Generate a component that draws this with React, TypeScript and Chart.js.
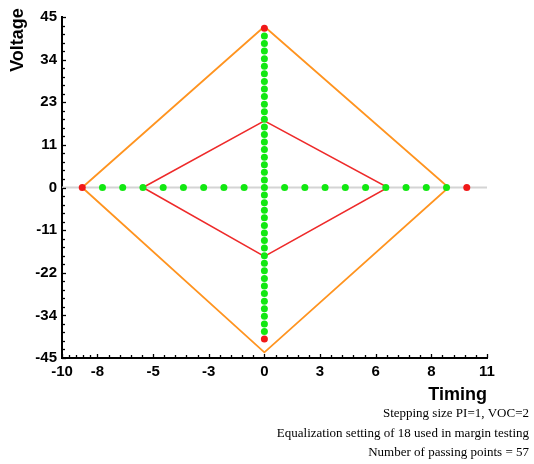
import React, { useEffect, useRef } from 'react';
import { Chart, registerables } from 'chart.js';

Chart.register(...registerables);

// Axis ranges and tick values
const X_MIN = -10;
const X_MAX = 11;
const Y_MIN = -45;
const Y_MAX = 45;
const xTickValues = [-10, -8.25, -5.5, -2.75, 0, 2.75, 5.5, 8.25, 11];
const yTickValues = [-45, -33.75, -22.5, -11.25, 0, 11.25, 22.5, 33.75, 45];

// Passing points along the timing axis (voltage = 0)
const timingPassX = [-8, -7, -6, -5, -4, -3, -2, -1, 1, 2, 3, 4, 5, 6, 7, 8, 9];
// Passing points along the voltage axis (timing = 0)
const voltagePassY = [
  -38, -36, -34, -32, -30, -28, -26, -24, -22, -20, -18, -16, -14, -12, -10, -8, -6, -4, -2,
  0, 2, 4, 6, 8, 10, 12, 14, 16, 18, 20, 22, 24, 26, 28, 30, 32, 34, 36, 38, 40,
];
// Failing points
const failX = [-9, 10, 0, 0];
const failY = [0, 0, 42, -40];
// Outer (orange) eye mask
const outerEyeX = [-9, 0, 9.1, 0, -9];
const outerEyeY = [0, 42.5, 0, -43.5, 0];
// Inner (red) eye mask
const innerEyeX = [-6, 0, 6.1, 0, -6];
const innerEyeY = [0, 17.6, 0, -18.2, 0];

const xTitle = 'Timing';
const yTitle = 'Voltage';
const notes = [
  'Stepping size PI=1, VOC=2',
  'Equalization setting of 18 used in margin testing',
  'Number of passing points = 57',
];

const SANS = '"Liberation Sans", Arial, sans-serif';
const SERIF = '"Liberation Serif", "Times New Roman", serif';

const decorPlugin = {
  id: 'decor',
  afterDraw(chart: any) {
    const { ctx, chartArea } = chart;
    const xs = chart.scales.x;
    const ys = chart.scales.y;
    ctx.save();
    ctx.strokeStyle = '#000';
    ctx.lineWidth = 1.3;
    const bottom = chartArea.bottom;
    const left = chartArea.left;
    const major = 4;
    const minor = 3;
    const seg = (x1: number, y1: number, x2: number, y2: number) => {
      ctx.beginPath();
      ctx.moveTo(x1, y1);
      ctx.lineTo(x2, y2);
      ctx.stroke();
    };
    for (let i = 0; i < xTickValues.length; i++) {
      const v = xTickValues[i];
      const px = Math.round(xs.getPixelForValue(v)) + 0.5;
      seg(px, bottom, px, bottom - major);
      if (i < xTickValues.length - 1) {
        const n = xTickValues[i + 1];
        for (let k = 1; k < 5; k++) {
          const mp = Math.round(xs.getPixelForValue(v + ((n - v) * k) / 5)) + 0.5;
          seg(mp, bottom, mp, bottom - minor);
        }
      }
    }
    for (let i = 0; i < yTickValues.length; i++) {
      const v = yTickValues[i];
      const py = Math.round(ys.getPixelForValue(v)) + 0.5;
      seg(left, py, left + major, py);
      if (i < yTickValues.length - 1) {
        const n = yTickValues[i + 1];
        for (let k = 1; k < 5; k++) {
          const mp = Math.round(ys.getPixelForValue(v + ((n - v) * k) / 5)) + 0.5;
          seg(left, mp, left + minor, mp);
        }
      }
    }

    ctx.fillStyle = '#000';
    // Y title
    ctx.save();
    ctx.translate(18, 40);
    ctx.rotate(-Math.PI / 2);
    ctx.font = `bold 18px ${SANS}`;
    ctx.textAlign = 'center';
    ctx.textBaseline = 'middle';
    ctx.fillText(yTitle, 0, 0);
    ctx.restore();
    // X title
    ctx.font = `bold 18px ${SANS}`;
    ctx.textAlign = 'right';
    ctx.textBaseline = 'middle';
    ctx.fillText(xTitle, chartArea.right, 395);
    // Notes
    ctx.font = `13px ${SERIF}`;
    notes.forEach((t, i) => ctx.fillText(t, 529, 414 + i * 19.5));
    ctx.restore();
  },
};

export default function App() {
  const ref = useRef<HTMLCanvasElement | null>(null);

  useEffect(() => {
    document.body.style.margin = '0';
    const canvas = ref.current;
    if (!canvas) return;

    const pts = (xs: number[], ys: number[]) => xs.map((x, i) => ({ x, y: ys[i] }));

    const chart = new Chart(canvas, {
      type: 'scatter',
      data: {
        datasets: [
          {
            label: 'fail',
            data: pts(failX, failY),
            pointRadius: 3.5,
            pointBackgroundColor: '#f01818',
            pointBorderWidth: 0,
            showLine: false,
          },
          {
            label: 'pass timing',
            data: timingPassX.map((x) => ({ x, y: 0 })),
            pointRadius: 3.5,
            pointBackgroundColor: '#12e812',
            pointBorderWidth: 0,
            showLine: false,
          },
          {
            label: 'pass voltage',
            data: voltagePassY.map((y) => ({ x: 0, y })),
            pointRadius: 3.5,
            pointBackgroundColor: '#12e812',
            pointBorderWidth: 0,
            showLine: false,
          },
          {
            label: 'inner',
            data: pts(innerEyeX, innerEyeY),
            showLine: true,
            borderColor: '#ee2a2a',
            borderWidth: 1.5,
            pointRadius: 0,
            tension: 0,
          },
          {
            label: 'outer',
            data: pts(outerEyeX, outerEyeY),
            showLine: true,
            borderColor: '#ff9420',
            borderWidth: 1.8,
            pointRadius: 0,
            tension: 0,
          },
          {
            label: 'zero',
            data: [
              { x: X_MIN, y: 0 },
              { x: X_MAX, y: 0 },
            ],
            showLine: true,
            borderColor: '#d4d4d4',
            borderWidth: 2,
            pointRadius: 0,
          },
        ],
      },
      options: {
        responsive: false,
        animation: false,
        layout: { padding: { left: 0, top: 17, right: 47, bottom: 88 } },
        plugins: {
          legend: { display: false },
          tooltip: { enabled: false },
        },
        scales: {
          x: {
            type: 'linear',
            min: X_MIN,
            max: X_MAX,
            afterBuildTicks: (s: any) => {
              s.ticks = xTickValues.map((value) => ({ value }));
            },
            afterFit: (s: any) => {
              s.height = 18;
            },
            grid: { display: false, drawTicks: false },
            border: { display: true, color: '#000', width: 2 },
            ticks: {
              autoSkip: false,
              maxRotation: 0,
              padding: 5,
              color: '#000',
              font: { family: SANS, size: 15, weight: 'bold' },
              callback: (v: any) => String(Math.round(Number(v))),
            },
          },
          y: {
            type: 'linear',
            min: Y_MIN,
            max: Y_MAX,
            afterBuildTicks: (s: any) => {
              s.ticks = yTickValues.map((value) => ({ value }));
            },
            afterFit: (s: any) => {
              s.width = 62;
            },
            grid: { display: false, drawTicks: false },
            border: { display: true, color: '#000', width: 2 },
            ticks: {
              autoSkip: false,
              padding: 5,
              color: '#000',
              font: { family: SANS, size: 15, weight: 'bold' },
              callback: (v: any) => String(Math.round(Number(v))),
            },
          },
        },
      },
      plugins: [decorPlugin],
    } as any);

    return () => chart.destroy();
  }, []);

  return (
    <div style={{ width: 534, height: 464, background: '#fff' }}>
      <canvas ref={ref} width={534} height={464} />
    </div>
  );
}
